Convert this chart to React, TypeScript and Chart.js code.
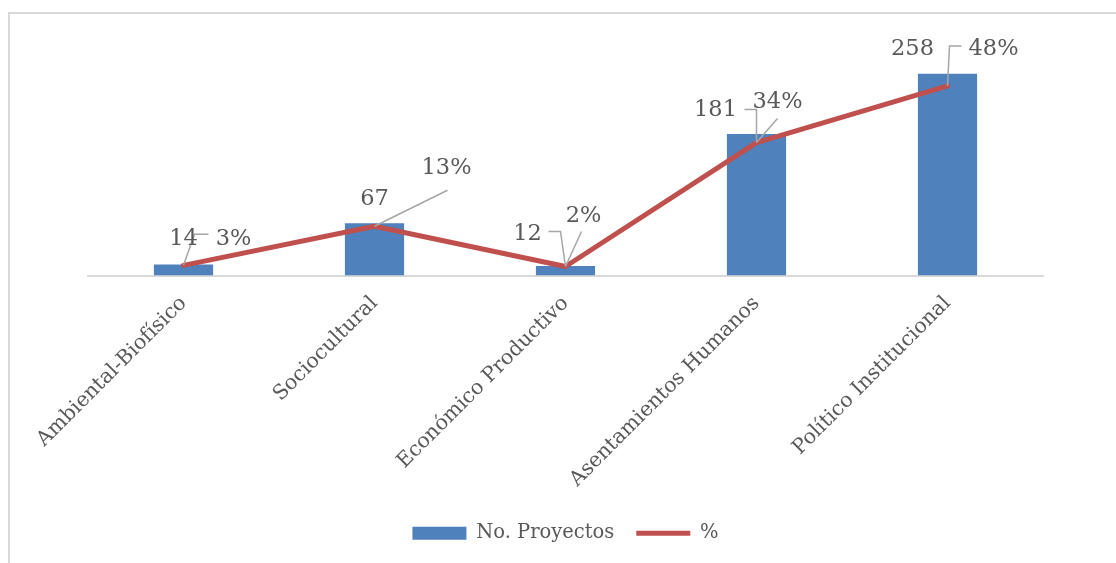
import { useEffect, useRef } from "react";
import { Chart, registerables } from "chart.js";

Chart.register(...registerables);

const categories = [
  "Ambiental-Biofísico",
  "Sociocultural",
  "Económico Productivo",
  "Asentamientos Humanos",
  "Político Institucional",
];
const proyectos = [14, 67, 12, 181, 258];
const porcentaje = [2.6, 12.6, 2.3, 34.0, 48.5];
const porcentajeLabels = ["3%", "13%", "2%", "34%", "48%"];

const FONT = "'DejaVu Serif', serif";
const TEXT = "#595959";
const LEADER = "#a6a6a6";

// label placement styles (pixel offsets relative to the line point)
const barLabelOffsets = [[0, -26], [0, -27], [-38, -32], [-41, -32], [-35, -37]];
const pctLabelOffsets = [[50, -26], [72, -58], [18, -50], [21, -40], [46, -37]];
const leaders: number[][][] = [
  [[11, -31], [25, -31]],
  [[73, -36]],
  [[-5, -35], [-17, -35]],
  [[16, -35]],
  [[0, -33], [-12, -33]],
  [[21, -24]],
  [[2, -40], [14, -40]],
];
const leaderIndex = [0, 1, 2, 2, 3, 3, 4];

const framePlugin = {
  id: "frame",
  beforeDraw(chart: any) {
    const ctx = chart.ctx;
    ctx.save();
    ctx.strokeStyle = "#d9d9d9";
    ctx.lineWidth = 2;
    ctx.beginPath();
    ctx.moveTo(9, chart.height);
    ctx.lineTo(9, 13);
    ctx.lineTo(chart.width, 13);
    ctx.stroke();
    ctx.restore();
  },
};

const labelsPlugin = {
  id: "dataLabels",
  afterDatasetsDraw(chart: any) {
    const ctx = chart.ctx;
    const barMeta = chart.getDatasetMeta(0);
    const lineMeta = chart.getDatasetMeta(1);
    ctx.save();
    ctx.strokeStyle = LEADER;
    ctx.lineWidth = 1.5;
    leaders.forEach((pts, k) => {
      const p = lineMeta.data[leaderIndex[k]];
      ctx.beginPath();
      ctx.moveTo(p.x, p.y);
      pts.forEach(([dx, dy]) => ctx.lineTo(p.x + dx, p.y + dy));
      ctx.stroke();
    });
    ctx.fillStyle = TEXT;
    ctx.font = `22.5px ${FONT}`;
    ctx.textAlign = "center";
    ctx.textBaseline = "middle";
    proyectos.forEach((v, i) => {
      const p = lineMeta.data[i];
      const b = barMeta.data[i];
      const [dx, dy] = barLabelOffsets[i];
      ctx.fillText(String(v), b.x + dx, p.y + dy);
    });
    porcentajeLabels.forEach((t, i) => {
      const p = lineMeta.data[i];
      const [dx, dy] = pctLabelOffsets[i];
      ctx.fillText(t, p.x + dx, p.y + dy);
    });
    ctx.restore();
  },
};

export default function App() {
  const ref = useRef<HTMLCanvasElement | null>(null);
  useEffect(() => {
    document.body.style.overflow = "hidden";
    const chart = new Chart(ref.current as HTMLCanvasElement, {
      type: "bar",
      data: {
        labels: categories,
        datasets: [
          {
            type: "bar",
            label: "No. Proyectos",
            data: proyectos,
            backgroundColor: "#4f81bd",
            borderWidth: 0,
            barPercentage: 0.31,
            categoryPercentage: 1,
            yAxisID: "y",
            order: 2,
            pointStyle: "rect",
          } as any,
          {
            type: "line",
            label: "%",
            data: porcentaje,
            borderColor: "#c0504d",
            backgroundColor: "#c0504d",
            borderWidth: 5,
            borderCapStyle: "round",
            borderJoinStyle: "round",
            pointRadius: 0,
            pointStyle: "line",
            tension: 0,
            yAxisID: "y1",
            order: 1,
          } as any,
        ],
      },
      options: {
        animation: false,
        responsive: false,
        layout: { padding: { left: 88, right: 73, top: 41, bottom: 10 } },
        plugins: {
          legend: {
            position: "bottom",
            labels: {
              usePointStyle: true,
              pointStyleWidth: 54,
              boxHeight: 13,
              color: TEXT,
              font: { family: FONT, size: 19.5 },
              padding: 22,
              sort: (a: any, b: any) => a.datasetIndex - b.datasetIndex,
            },
          },
          tooltip: { enabled: false },
        },
        scales: {
          x: {
            grid: { display: false },
            border: { display: true, color: "#d9d9d9", width: 2 },
            ticks: {
              minRotation: 45,
              maxRotation: 45,
              color: TEXT,
              font: { family: FONT, size: 20.5 },
              padding: 8,
            },
            afterFit: (scale: any) => {
              scale.height = 226;
            },
          },
          y: { display: false, min: 0, max: 300 },
          y1: { display: false, min: 0, max: 60 },
        },
      },
      plugins: [framePlugin, labelsPlugin],
    });
    return () => chart.destroy();
  }, []);
  return (
    <canvas
      ref={ref}
      width={1116}
      height={563}
      style={{ position: "fixed", left: 0, top: 0, width: 1116, height: 563 }}
    />
  );
}
